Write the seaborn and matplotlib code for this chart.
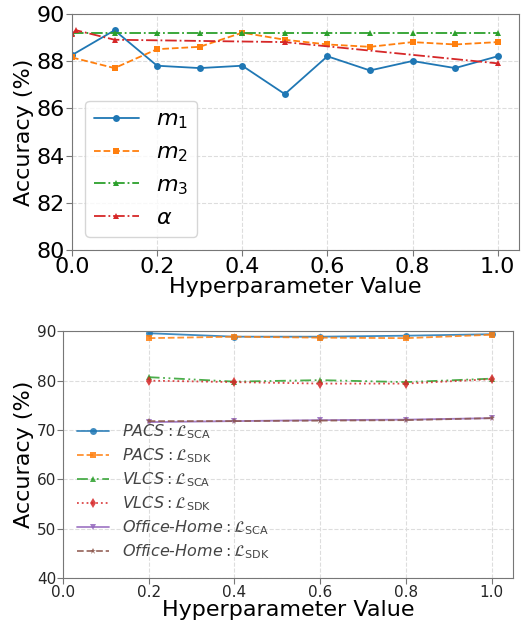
import numpy as np
import pandas as pd
import matplotlib.pyplot as plt
import seaborn as sns

# top panel data
x_top = [0.0, 0.1, 0.2, 0.3, 0.4, 0.5, 0.6, 0.7, 0.8, 0.9, 1.0]
m1 = [88.25, 89.3, 87.8, 87.7, 87.8, 86.6, 88.2, 87.6, 88.0, 87.7, 88.2]
m2 = [88.15, 87.7, 88.5, 88.6, 89.2, 88.9, 88.7, 88.6, 88.8, 88.7, 88.8]
m3 = [89.2, 89.2, 89.2, 89.2, 89.2, 89.2, 89.2, 89.2, 89.2, 89.2, 89.2]
x_alpha = [0.0, 0.01, 0.1, 0.5, 1.0]
alpha_vals = [89.15, 89.3, 88.9, 88.8, 87.9]

# bottom panel data
x_bot = [0.2, 0.4, 0.6, 0.8, 1.0]
pacs_sca = [89.6, 88.9, 88.9, 89.1, 89.4]
pacs_sdk = [88.6, 88.9, 88.7, 88.6, 89.3]
vlcs_sca = [80.7, 79.8, 80.1, 79.7, 80.4]
vlcs_sdk = [80.0, 79.7, 79.4, 79.4, 80.3]
oh_sca = [71.6, 71.8, 72.0, 72.1, 72.4]
oh_sdk = [71.8, 71.8, 71.9, 72.0, 72.4]

sns.set_style("whitegrid", {"grid.linestyle": "--", "grid.color": "#dddddd",
                            "axes.edgecolor": "#777777"})
pal = sns.color_palette("tab10")

fig = plt.figure(figsize=(5.29, 6.25), dpi=100)
ax1 = fig.add_axes([0.136, 0.6, 0.845, 0.378])
ax2 = fig.add_axes([0.119, 0.075, 0.851, 0.395])

top_series = [
    (x_top, m1, r'$m_1$', '-', 'o', pal[0]),
    (x_top, m2, r'$m_2$', '--', 's', pal[1]),
    (x_top, m3, r'$m_3$', '-.', '^', pal[2]),
    (x_alpha, alpha_vals, r'$\alpha$', '-.', '^', pal[3]),
]
for xs, ys, lab, ls, mk, c in top_series:
    sns.lineplot(x=xs, y=ys, ax=ax1, label=lab, color=c, linestyle=ls,
                 marker=mk, markersize=5, markeredgewidth=0, linewidth=1.3)

ax1.set_xlim(0, 1.05)
ax1.set_ylim(80, 90)
ax1.set_xticks([0.0, 0.2, 0.4, 0.6, 0.8, 1.0])
ax1.set_yticks([80, 82, 84, 86, 88, 90])
ax1.tick_params(labelsize=16, length=4, color='#777777', left=True, bottom=True, pad=1,
                labelcolor='black')
ax1.set_xlabel('Hyperparameter Value', fontsize=16, labelpad=0, color='black')
ax1.set_ylabel('Accuracy (%)', fontsize=16, labelpad=2, color='black')
leg1 = ax1.legend(loc='lower left', fontsize=16, handlelength=2.0,
                  labelspacing=0.5, borderaxespad=0.6)
for t in leg1.get_texts():
    t.set_color('black')

dash3 = (0, (6, 2, 1, 2, 1, 2))
bot_series = [
    (pacs_sca, r'$\mathit{PACS}: \mathcal{L}_{\mathrm{SCA}}$', '-', 'o', pal[0]),
    (pacs_sdk, r'$\mathit{PACS}: \mathcal{L}_{\mathrm{SDK}}$', '--', 's', pal[1]),
    (vlcs_sca, r'$\mathit{VLCS}: \mathcal{L}_{\mathrm{SCA}}$', dash3, '^', pal[2]),
    (vlcs_sdk, r'$\mathit{VLCS}: \mathcal{L}_{\mathrm{SDK}}$', ':', 'd', pal[3]),
    (oh_sca, r'$\mathit{Office}$-$\mathit{Home}: \mathcal{L}_{\mathrm{SCA}}$', '-', 'v', pal[4]),
    (oh_sdk, r'$\mathit{Office}$-$\mathit{Home}: \mathcal{L}_{\mathrm{SDK}}$', '--', '*', pal[5]),
]
for ys, lab, ls, mk, c in bot_series:
    ln = sns.lineplot(x=x_bot, y=ys, ax=ax2, label=lab, color=c, marker=mk,
                      markersize=5, markeredgewidth=0, linewidth=1.3, alpha=0.85)
    ln.get_lines()[-1].set_linestyle(ls)

ax2.set_xlim(0, 1.05)
ax2.set_ylim(40, 90)
ax2.set_xticks([0.0, 0.2, 0.4, 0.6, 0.8, 1.0])
ax2.set_yticks([40, 50, 60, 70, 80, 90])
ax2.tick_params(labelsize=11, length=4, color='#777777', left=True, bottom=True, pad=1)
ax2.set_xlabel('Hyperparameter Value', fontsize=16, labelpad=0, color='black')
ax2.set_ylabel('Accuracy (%)', fontsize=16, labelpad=2, color='black')
leg = ax2.legend(loc='lower left', bbox_to_anchor=(0.0, 0.01), fontsize=11.5,
                 frameon=False, handlelength=2.0, labelspacing=0.33)
for t in leg.get_texts():
    t.set_color('#444444')

fig.savefig('out.png', dpi=100)
